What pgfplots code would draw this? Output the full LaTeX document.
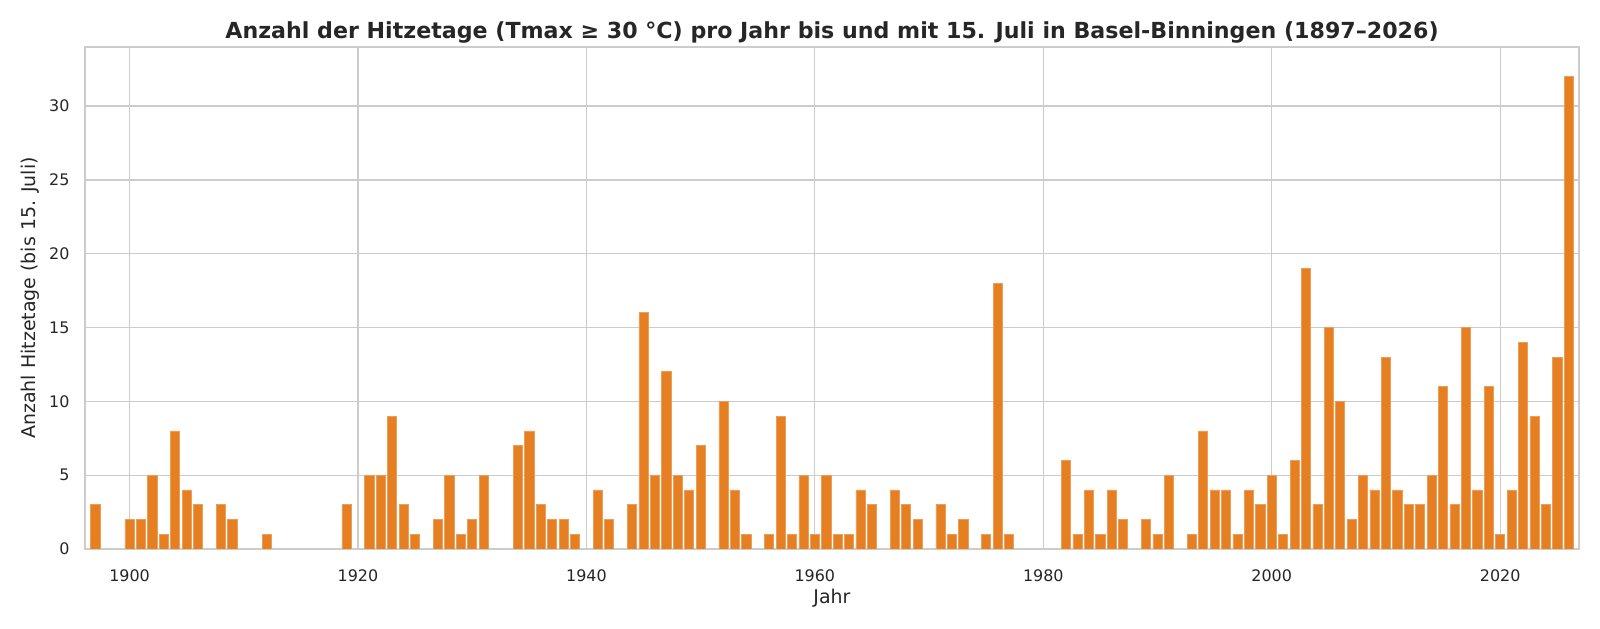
\documentclass[border=0pt]{standalone}
\usepackage{fontspec}
\setmainfont{DejaVu Sans}
\usepackage{pgfplots}
\pgfplotsset{compat=1.18}
\definecolor{barc}{HTML}{E67E22}
\definecolor{gridc}{HTML}{CCCCCC}
\definecolor{txt}{HTML}{262626}
\begin{document}
\begin{tikzpicture}
\useasboundingbox (-0.85in,-0.80in) rectangle (15.15in,5.49in);
\begin{axis}[
  scale only axis, width=14.94in, height=5.02in,
  xmin=1896.1, xmax=2026.9, ymin=0, ymax=34,
  xtick={1900,1920,...,2020}, ytick={0,5,...,30},
  grid=major, major grid style={draw=gridc, line width=0.9pt},
  axis line style={draw=gridc, line width=0.9pt},
  tick style={draw=none},
  /pgf/number format/assume math mode=true,
  /pgf/number format/1000 sep={},
  tick label style={font=\fontsize{11.5}{13}\selectfont, text=txt},
  xticklabel shift=7.5pt, yticklabel shift=7.7pt,
  xlabel={Jahr}, ylabel={Anzahl Hitzetage (bis 15. Juli)},
  every axis x label/.style={at={(axis description cs:0.5,-0.098)}, anchor=center, font=\fontsize{13.7}{15}\selectfont, text=txt},
  every axis y label/.style={at={(axis description cs:-0.0363,0.5)}, anchor=center, rotate=90, font=\fontsize{13.7}{15}\selectfont, text=txt},
  title={Anzahl der Hitzetage (Tmax ≥ 30 °C) pro Jahr bis und mit 15. Juli in Basel-Binningen (1897–2026)},
  every axis title/.style={at={(axis description cs:0.5,1.0285)}, anchor=center, font=\fontsize{16}{18}\selectfont\bfseries, text=txt},
  ybar, bar width=0.8, bar shift=0pt,
]
\addplot[fill=barc, draw=barc!75!white, line width=0.5pt] coordinates {
(1897,3) (1900,2) (1901,2) (1902,5) (1903,1) (1904,8) (1905,4) (1906,3)
(1908,3) (1909,2) (1912,1) (1919,3)
(1921,5) (1922,5) (1923,9) (1924,3) (1925,1) (1927,2) (1928,5) (1929,1) (1930,2) (1931,5)
(1934,7) (1935,8) (1936,3) (1937,2) (1938,2) (1939,1)
(1941,4) (1942,2) (1944,3) (1945,16) (1946,5) (1947,12) (1948,5) (1949,4) (1950,7)
(1952,10) (1953,4) (1954,1) (1956,1) (1957,9) (1958,1) (1959,5)
(1960,1) (1961,5) (1962,1) (1963,1) (1964,4) (1965,3) (1967,4) (1968,3) (1969,2)
(1971,3) (1972,1) (1973,2) (1975,1) (1976,18) (1977,1)
(1982,6) (1983,1) (1984,4) (1985,1) (1986,4) (1987,2) (1989,2)
(1990,1) (1991,5) (1993,1) (1994,8) (1995,4) (1996,4) (1997,1) (1998,4) (1999,3)
(2000,5) (2001,1) (2002,6) (2003,19) (2004,3) (2005,15) (2006,10) (2007,2) (2008,5) (2009,4)
(2010,13) (2011,4) (2012,3) (2013,3) (2014,5) (2015,11) (2016,3) (2017,15) (2018,4) (2019,11)
(2020,1) (2021,4) (2022,14) (2023,9) (2024,3) (2025,13) (2026,32)
};
\end{axis}
\end{tikzpicture}
\end{document}
